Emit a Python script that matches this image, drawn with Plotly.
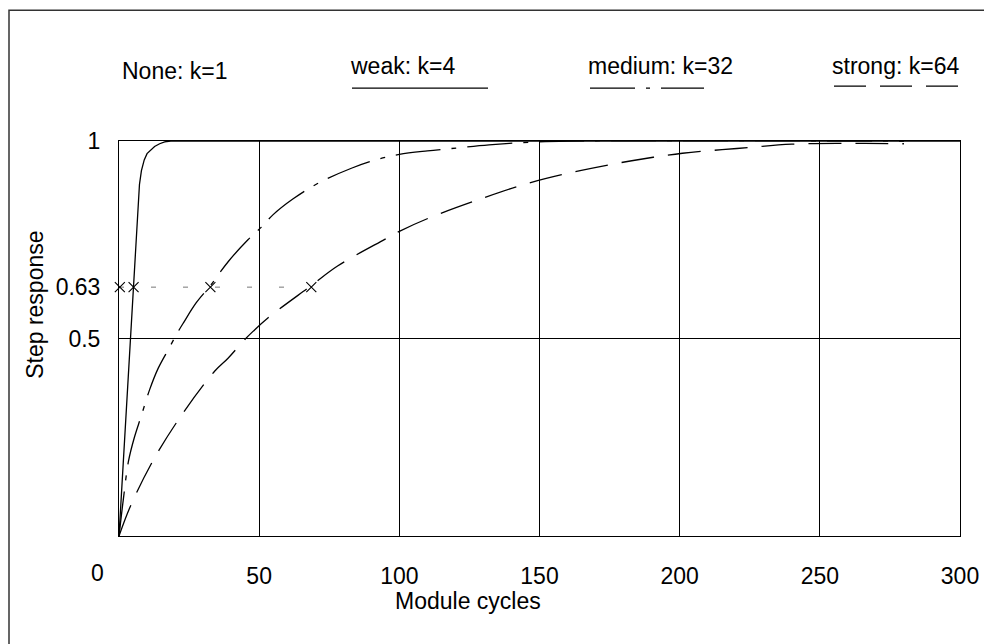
import plotly.graph_objects as go

# ---------------- data ----------------
weak_x = [0, 2, 4, 6, 7.3, 8, 9, 10, 11.3, 12.7, 14.5, 16.3, 18.5, 21, 300]
weak_y = [0, 0.245, 0.49, 0.735, 0.89, 0.925, 0.952, 0.968, 0.978, 0.986, 0.993, 0.998, 1.0, 1.0, 1.0]

medium_x = [0, 1.5, 3.4, 5.5, 7.9, 10.9, 14, 17.9, 20.8, 23.1, 27.5, 32.6, 39, 46, 50.8,
            54.9, 62, 71, 82.9, 92, 100, 110, 118.6, 132, 146.6, 160, 280]
medium_y = [0, 0.09, 0.19, 0.25, 0.303, 0.37, 0.425, 0.476, 0.514, 0.541, 0.59, 0.634, 0.695,
            0.75, 0.782, 0.813, 0.853, 0.893, 0.931, 0.953, 0.966, 0.975, 0.981, 0.99, 0.997,
            1.0, 1.0]

strong_x = [0, 4.35, 12.7, 22.8, 34.1, 38.9, 44.8, 47.8, 53.1, 68.6, 78.1, 94.8, 100.2,
            110.9, 128.8, 146, 164.5, 182.9, 201, 220.4, 240, 259.7, 266, 280]
strong_y = [0, 0.08, 0.198, 0.311, 0.417, 0.45, 0.497, 0.518, 0.552, 0.634, 0.684, 0.751,
            0.772, 0.806, 0.853, 0.893, 0.925, 0.95, 0.969, 0.981, 0.992, 0.994, 0.994, 0.993]

tau_x = [0.3, 5.2, 32.6, 68.6]          # 63 % crossing points
tau_level = 0.63

legend_labels = ["None: k=1", "weak: k=4", "medium: k=32", "strong: k=64"]

x_tick_vals = [0, 50, 100, 150, 200, 250, 300]
x_tick_text = ["0", "50", "100", "150", "200", "250", "300"]
y_tick_vals = [0.5, 0.63, 1]
y_tick_text = ["0.5", "0.63", "1"]
y_grid_vals = [0.5]
x_title = "Module cycles"
y_title = "Step response"

# ---------------- layout geometry (page pixels) ----------------
W, H = 984, 644
L, R, T, B = 119, 960, 141, 536.5
FONT = "Liberation Sans, Arial, sans-serif"
FS = 23


def px(xp):
    return (xp - L) / (R - L)


def py(yp):
    return (B - yp) / (B - T)


fig = go.Figure()

line_w = 1.3
fig.add_trace(go.Scatter(x=weak_x, y=weak_y, mode="lines",
                         line=dict(color="black", width=line_w), showlegend=False))
fig.add_trace(go.Scatter(x=medium_x, y=medium_y, mode="lines", line_shape="spline",
                         line=dict(color="black", width=line_w, dash="45px,11px,5px,11px"),
                         showlegend=False))
fig.add_trace(go.Scatter(x=strong_x, y=strong_y, mode="lines", line_shape="spline",
                         line=dict(color="black", width=line_w, dash="33px,14px"),
                         showlegend=False))

# 63% level dashed line with markers
fig.add_trace(go.Scatter(x=[0] + tau_x, y=[tau_level] * (len(tau_x) + 1), mode="lines",
                         line=dict(color="#777777", width=1, dash="5px,27px"),
                         showlegend=False))
fig.add_trace(go.Scatter(x=tau_x, y=[tau_level] * len(tau_x), mode="markers",
                         marker=dict(symbol="x-thin", size=10, color="black",
                                     line=dict(color="black", width=1.1)),
                         showlegend=False, cliponaxis=False))

annotations = []
# "0" tick label shifted left of the axis
annotations.append(dict(x=x_tick_vals[0], y=py(574), xref="x", yref="paper", text=x_tick_text[0],
                        showarrow=False, xanchor="center", yanchor="middle",
                        xshift=-22, font=dict(family=FONT, size=FS, color="black")))
# axis titles
annotations.append(dict(x=px(468), y=py(602), xref="paper", yref="paper", text=x_title,
                        showarrow=False, xanchor="center", yanchor="middle",
                        font=dict(family=FONT, size=FS, color="black")))
annotations.append(dict(x=px(35), y=py(305), xref="paper", yref="paper", text=y_title,
                        showarrow=False, xanchor="center", yanchor="middle", textangle=-90,
                        font=dict(family=FONT, size=FS, color="black")))

# custom legend text
leg_pos = [(120, 71), (348, 66), (586, 66), (830, 66)]
for lab, (lx, ly) in zip(legend_labels, leg_pos):
    annotations.append(dict(x=px(lx), y=py(ly), xref="paper", yref="paper", text=lab,
                            showarrow=False, xanchor="left", yanchor="middle",
                            font=dict(family=FONT, size=FS, color="black")))

shapes = []
# legend line samples
shapes.append(dict(type="line", xref="paper", yref="paper", x0=px(352), x1=px(488),
                   y0=py(88), y1=py(88), line=dict(color="black", width=1.2)))
shapes.append(dict(type="line", xref="paper", yref="paper", x0=px(590), x1=px(704),
                   y0=py(88), y1=py(88),
                   line=dict(color="black", width=1.2, dash="45px,11px,4px,11px")))
shapes.append(dict(type="line", xref="paper", yref="paper", x0=px(834), x1=px(958),
                   y0=py(86), y1=py(86), line=dict(color="black", width=1.2, dash="32px,14px")))
# outer figure frame (left and top edges visible)
shapes.append(dict(type="rect", xref="paper", yref="paper", x0=px(9), x1=px(1000),
                   y0=py(660), y1=py(10), line=dict(color="#333333", width=1.5)))

fig.update_layout(
    width=W, height=H,
    margin=dict(l=L, r=W - R, t=T, b=H - B, pad=0, autoexpand=False),
    paper_bgcolor="white", plot_bgcolor="white",
    font=dict(family=FONT, size=FS, color="black"),
    annotations=annotations, shapes=shapes,
    showlegend=False,
)
fig.update_xaxes(range=[0, 300], tickvals=x_tick_vals[1:], ticktext=x_tick_text[1:],
                 showgrid=True, gridcolor="black", gridwidth=1, automargin=False,
                 ticklabeloverflow="allow",
                 showline=True, linecolor="black", linewidth=1, mirror=True,
                 ticks="", zeroline=False, ticklabelstandoff=19)
fig.update_yaxes(range=[0, 1], tickvals=y_tick_vals, ticktext=y_tick_text,
                 showgrid=False, zeroline=False, automargin=False,
                 minor=dict(tickvals=y_grid_vals, showgrid=True, gridcolor="black",
                            gridwidth=1, ticks=""),
                 showline=True, linecolor="black", linewidth=1, mirror=True,
                 ticks="", ticklabelstandoff=13)

fig.write_html("out.html",
               config={"displayModeBar": False},
               post_script="document.documentElement.style.overflow='hidden';"
                           "document.body.style.overflow='hidden';"
                           "document.body.style.margin='0px';")
